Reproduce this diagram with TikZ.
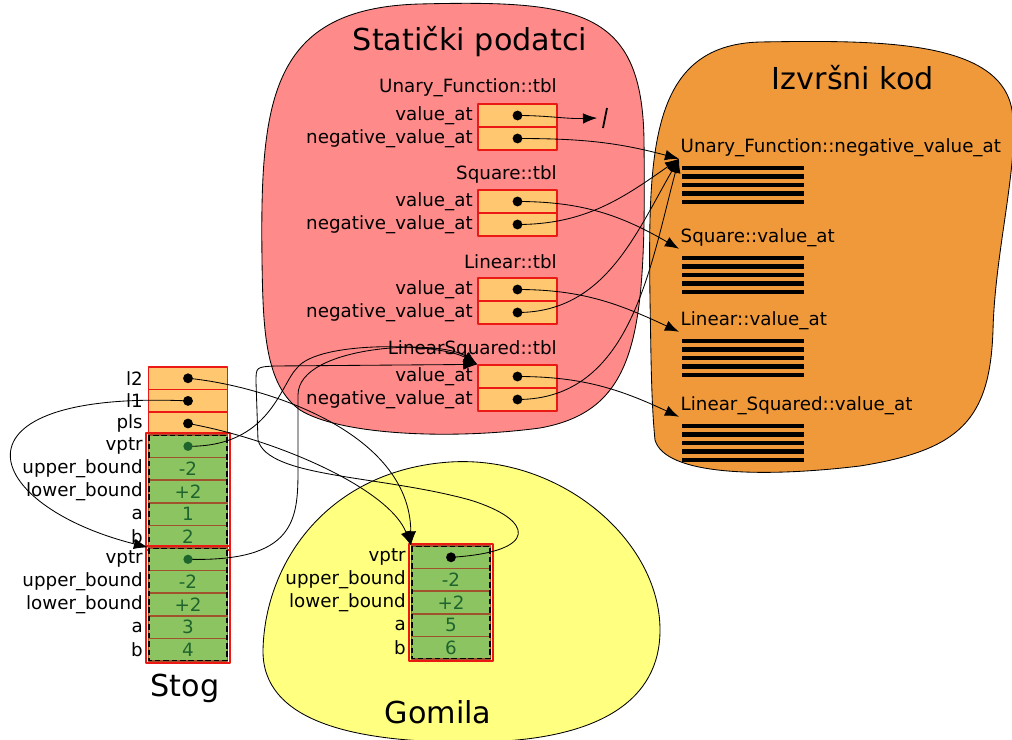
\documentclass[tikz,border=0pt]{standalone}
\usepackage{fontspec}
\setmainfont{DejaVu Sans}
\usetikzlibrary{arrows.meta}

\definecolor{crvena}{RGB}{255,138,138}
\definecolor{narancasta}{RGB}{240,153,58}
\definecolor{zuta}{RGB}{255,255,128}
\definecolor{celijaN}{RGB}{255,200,112}
\definecolor{celijaZ}{RGB}{140,196,98}
\definecolor{tamnoZ}{RGB}{30,100,45}
\definecolor{smeda}{RGB}{160,82,45}
\definecolor{rub}{RGB}{235,25,20}

\begin{document}
\begin{tikzpicture}[x=0.025cm,y=-0.025cm,line join=round,>={Latex[length=10pt,width=7.5pt]},
	font=\fontsize{13}{15}\selectfont,
	oblak/.style={draw=black,line width=0.6pt},
	naslov/.style={font=\fontsize{21.5}{24}\selectfont},
	oznaka/.style={anchor=east,inner sep=0pt},
	celija/.style={draw=rub,line width=1.2pt,fill=celijaN,minimum width=56pt,minimum height=16pt,inner sep=0pt},
	zelena/.style={draw=smeda,line width=1pt,fill=celijaZ,text=tamnoZ,minimum width=56pt,minimum height=16pt,inner sep=0pt},
	veza/.style={->,line width=0.6pt},
	kod/.style={line width=3.2pt}]
	\useasboundingbox (0,0) rectangle (1012,740);
	%Oblaci
	\draw[oblak,fill=crvena] (262,260) .. controls (260,100) and (270,8) .. (420,4)
		.. controls (580,0) and (642,10) .. (644,140)
		.. controls (646,330) and (640,410) .. (540,428)
		.. controls (450,440) and (340,435) .. (300,410)
		.. controls (265,385) and (263,330) .. cycle;
	\draw[oblak,fill=narancasta] (650,300) .. controls (648,150) and (650,45) .. (760,42)
		.. controls (880,40) and (1000,40) .. (1012,110)
		.. controls (1020,160) and (995,250) .. (993,330)
		.. controls (990,420) and (960,450) .. (860,466)
		.. controls (760,478) and (665,475) .. (655,440)
		.. controls (651,400) and (651,350) .. cycle;
	\draw[oblak,fill=zuta] (263,650) .. controls (265,560) and (330,470) .. (450,462)
		.. controls (560,455) and (660,540) .. (660,630)
		.. controls (660,700) and (600,740) .. (480,742)
		.. controls (350,744) and (262,720) .. cycle;
	\node[naslov] (staticki) at (470,42) {Statički podatci};
	\node[naslov] (izvrsni) at (853,78) {Izvršni kod};
	\node[naslov] (gomila) at (438,712) {Gomila};
	\node[naslov] (stog) at (185,688) {Stog};
	
	%Tablice virtualnih funkcija
	\foreach \ime/\kr/\y in {Unary\_Function::tbl/uf/104, Square::tbl/sq/190, Linear::tbl/li/278, LinearSquared::tbl/ls/365}{
		\node[oznaka] (\kr-ime) at (557,\y-16) {\ime};
		\node[celija] (\kr-v) at (517.5,\y+11.5) {};
		\node[celija] (\kr-n) at (517.5,\y+34.5) {};
		\node[oznaka] (\kr-ov) at (473,\y+11.5) {value\_at};
		\node[oznaka] (\kr-on) at (473,\y+34.5) {negative\_value\_at};
	}
	
	%Izvrsni kod
	\foreach \nm/\ly [count=\k] in {Unary\_Function::negative\_value\_at/148, Square::value\_at/238, Linear::value\_at/321, Linear\_Squared::value\_at/406}{
		\node[anchor=west,inner sep=1pt] (c\k) at (679,\ly) {\nm};
		\foreach \j in {0,...,4} \draw[kod] (682,\ly+20+8.5*\j) -- ++(122,0);
	}
	
	%Stog i gomila
	\foreach \ime [count=\i] in {l2,l1,pls}{
		\node[celija] (\ime) at (188,367+22.6*\i-11.3) {};
		\node[oznaka] (\ime-o) at (143,367+22.6*\i-11.3) {\ime};
	}
	\foreach \blk/\x/\y/\va/\vb in {s1/188/435/1/2, s2/188/548/3/4, h/451/546/5/6}{
		\foreach \lbl/\val [count=\i] in {vptr/{}, upper\_bound/-2, lower\_bound/+2, a/\va, b/\vb}{
			\node[zelena] (\blk-\i) at (\x,\y+22.6*\i-11.3) {\val};
			\node[oznaka] (\blk-o\i) at (\x-45,\y+22.6*\i-11.3) {\lbl};
		}
		\draw[rub,line width=1.4pt] ([shift={(-1.5,-1.5)}]\blk-1.north west) rectangle ([shift={(1.5,1.5)}]\blk-5.south east);
		\draw[dash pattern=on 4pt off 2pt,line width=1pt] ([shift={(1,1)}]\blk-1.north west) rectangle ([shift={(-1,-1)}]\blk-5.south east);
	}
	
	%Pokazivaci
	\coordinate (nul) at (597,118);
	\draw[veza] (uf-v.center) to[out=0,in=182] (nul);
	\draw[line width=1.3pt] (nul) ++(6,10) -- ++(4,-20);
	\draw[veza] (uf-n.center) to[out=0,in=165] (c1.south west);
	\draw[veza] (sq-v.center) to[out=0,in=150] (c2.south west);
	\draw[veza] (sq-n.center) to[out=0,in=215] (c1.south west);
	\draw[veza] (li-v.center) to[out=0,in=155] (c3.south west);
	\draw[veza] (li-n.center) to[out=0,in=240] (c1.south west);
	\draw[veza] (ls-v.center) to[out=0,in=155] (c4.south west);
	\draw[veza] (ls-n.center) to[out=0,in=255] (c1.south west);
	
	\draw[veza] (l2.center) .. controls (260,385) and (410,430) .. (h-1.north west);
	\draw[veza] (pls.center) .. controls (280,440) and (390,490) .. (h-1.north west);
	\draw[veza] (l1.center) .. controls (-60,390) and (-20,505) .. (s2-1.north west);
	\draw[veza] (s1-1.center) .. controls (270,447) and (280,385) .. (297,368)
		.. controls (318,340) and (440,343) .. (ls-v.north west);
	\draw[veza] (s2-1.center) .. controls (295,562) and (298,520) .. (298,470) -- (298,395)
		.. controls (298,345) and (440,338) .. (ls-v.north west);
	\draw[veza] (h-1.center) .. controls (540,552) and (535,520) .. (470,500)
		.. controls (380,475) and (268,478) .. (258,440) -- (256,382)
		.. controls (256,367) .. (275,366) -- (ls-v.north west);
	
	\fill (l2) circle(3.5pt) (l1) circle(3.5pt) (pls) circle(3.5pt) (h-1) circle(3.5pt);
	\fill[tamnoZ] (s1-1) circle(3.3pt) (s2-1) circle(3.3pt);
	\foreach \kr in {uf,sq,li,ls}
		\fill (\kr-v) circle(3.5pt) (\kr-n) circle(3.5pt);
\end{tikzpicture}
\end{document}
